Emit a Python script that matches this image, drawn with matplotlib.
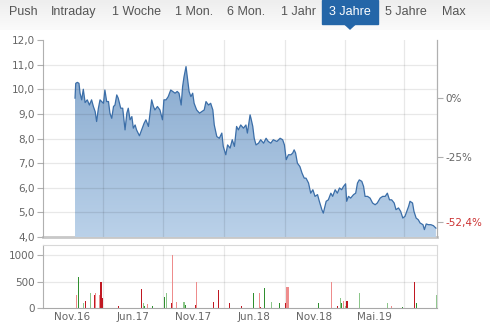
import numpy as np
import matplotlib
matplotlib.use("Agg")
import matplotlib.pyplot as plt
from matplotlib.colors import LinearSegmentedColormap
from matplotlib.patches import PathPatch, Rectangle, Polygon

# price history, x in days since the left edge of the 3-year window
days = [89, 91, 95.5, 100, 103, 107.5, 112, 117, 123, 129, 135, 140, 145, 149, 154, 158.5,
        163, 168, 172, 177, 182, 186, 191, 196, 200, 205, 209, 216, 221.5, 228, 233, 237,
        242, 247, 251, 256, 260, 268, 274, 281, 286, 293, 297.5, 302, 307, 311, 318, 325,
        332, 336, 342, 348, 355, 360.5, 367, 373, 378, 384, 388, 392, 397.5, 401, 406, 411,
        416, 420, 427, 435, 441, 448, 453, 460, 466, 472, 476, 483, 490, 497, 501, 508,
        513, 520, 526, 532, 538, 543, 549.5, 557, 564, 568, 575.5, 578, 583, 587, 592,
        599, 605, 613, 620, 626, 633, 640, 650, 659, 666, 671, 676, 682, 689, 694, 698,
        702, 707, 714, 720, 726, 731, 738, 744, 750, 756, 763, 768, 775, 779, 787, 793,
        800, 805, 812, 818, 824, 830, 835, 841, 844, 849, 855, 863, 869, 874, 879, 886,
        891, 895, 902, 909, 916, 923, 929, 937, 944, 951, 957, 963, 969, 976, 981, 988,
        994, 1000, 1006, 1011, 1016, 1020, 1027, 1031, 1037, 1043, 1048, 1056, 1060, 1065,
        1071, 1078, 1085, 1092]
prices = [9.64, 10.24, 10.28, 10.24, 9.84, 9.57, 10.0, 9.46, 9.57, 9.36, 9.57, 9.30, 9.09, 8.69, 9.23, 9.57,
          9.50, 9.43, 9.97, 9.50, 9.50, 9.03, 8.82, 9.30, 9.36, 9.77, 9.64, 9.23, 9.23, 8.35, 9.03, 9.23,
          8.76, 8.89, 8.42, 8.55, 8.35, 8.11, 8.35, 8.62, 8.76, 8.49, 9.03, 9.57, 9.30, 9.16, 9.30, 9.16,
          8.76, 9.57, 9.57, 9.70, 9.97, 9.91, 9.84, 9.91, 9.84, 9.36, 10.11, 10.51, 10.92, 10.51, 9.91, 9.70,
          9.84, 9.43, 9.16, 9.03, 9.09, 9.16, 9.50, 9.36, 9.43, 9.16, 8.55, 8.08, 8.01, 8.22, 7.68, 7.34,
          7.74, 7.61, 7.95, 7.68, 8.49, 8.35, 8.55, 8.42, 8.55, 8.22, 8.96, 8.82, 8.49, 8.01, 7.74,
          7.81, 7.95, 7.81, 8.01, 7.88, 7.81, 7.95, 7.88, 8.01, 7.95, 7.74, 7.14, 7.34, 7.34, 7.41, 7.54,
          7.41, 7.0, 6.86, 6.59, 6.39, 6.39, 6.19, 5.78, 5.92, 5.65, 5.72, 5.45, 5.11, 4.97, 5.45, 5.51,
          5.78, 5.65, 5.92, 5.78, 5.99, 5.92, 6.05, 6.16, 5.45, 5.65, 5.58, 5.72, 5.78, 6.19, 6.32, 6.26,
          6.05, 5.65, 5.65, 5.58, 5.38, 5.31, 5.38, 5.58, 5.65, 5.65, 5.78, 5.51, 5.51, 5.38, 5.11, 5.18,
          5.04, 4.77, 4.84, 5.04, 5.24, 5.45, 5.38, 5.04, 4.77, 4.70, 4.57, 4.50, 4.30, 4.53,
          4.50, 4.50, 4.46, 4.36]

base_price = 9.65
pct_ticks = [0, -25, -52.4]
pct_labels = ["0%", "-25%", "-52,4%"]

# volume bars: day, volume, colour class
vol_days = [92, 98, 112, 118, 133, 143, 146.5, 157, 161, 164, 209, 273, 280, 283, 291, 304,
            337, 344, 356, 359, 371, 392, 396, 424, 425.5, 475, 487.5, 518, 551, 585, 601.5,
            605, 615, 636, 657, 675, 678, 681, 765.5, 801, 818, 827, 829.5, 835, 840.5, 845,
            880.5, 957, 969, 1000, 1032, 1038, 1092.5]
vol_values = [250, 590, 105, 140, 280, 250, 295, 250, 500, 200, 50, 355, 100, 45, 80, 50,
              205, 295, 100, 1000, 120, 115, 55, 60, 500, 120, 350, 100, 40, 295, 295,
              25, 380, 120, 100, 100, 400, 400, 100, 500, 40, 200, 100, 140, 50, 140,
              295, 100, 40, 25, 500, 95, 250]
vol_kind = ["lr", "dg", "lg", "dr", "lg", "dr", "lr", "lr", "dr", "dr", "dr", "dr", "lg", "dg", "lr", "dg",
            "dg", "lg", "dr", "lr", "lr", "lg", "dg", "dr", "lr", "dr", "dr", "dr", "dr", "dg", "lr",
            "dr", "dg", "lg", "dg", "dr", "lr", "lr", "dg", "lr", "dr", "lg", "dg", "lr", "lg", "dr",
            "lg", "lg", "lr", "dg", "dr", "dg", "lg"]
kind_colors = {"dg": "#2f8f2f", "lg": "#8cc68a", "dr": "#c01822", "lr": "#ee8c8c"}

tick_pos = [81, 250, 417, 587, 753, 920]
tick_labels = ["Nov.16", "Jun.17", "Nov.17", "Jun.18", "Nov.18", "Mai.19"]
grid_x = [167, 334, 503, 673, 840, 1004]

tabs = ["Push", "Intraday", "1 Woche", "1 Mon.", "6 Mon.", "1 Jahr", "3 Jahre", "5 Jahre", "Max"]
tab_x = [23, 74, 136, 194, 246, 298, 350, 406, 454]
active_tab = "3 Jahre"

W, H = 490, 330
fig = plt.figure(figsize=(4.9, 3.3), dpi=100)
fig.patch.set_facecolor("white")

# tab bar
bar = fig.add_axes([0, 0, 1, 1], zorder=0)
bar.set_xlim(0, W)
bar.set_ylim(H, 0)
bar.axis("off")
bar_grad = np.linspace(0, 1, 50).reshape(-1, 1)
bar.imshow(bar_grad, extent=[0, W, 30, 0], aspect="auto",
           cmap=LinearSegmentedColormap.from_list("tb", ["#eeeeee", "#fbfbfb"]), zorder=0)
for name, x in zip(tabs, tab_x):
    if name == active_tab:
        bar.add_patch(Rectangle((x - 28, 0), 56, 24, color="#2466a8", zorder=1))
        bar.add_patch(Polygon([[x - 6, 23.5], [x + 6, 23.5], [x, 29]], closed=True,
                              color="#2466a8", zorder=1))
        bar.text(x, 12, name, color="white", ha="center", va="center",
                 fontsize=9, family="Liberation Sans", zorder=2)
    else:
        bar.text(x, 12, name, color="#555555", ha="center", va="center",
                 fontsize=9, family="Liberation Sans", zorder=2)

gray_txt = "#666666"
spine_c = "#b0b0b0"
grid_kw = dict(color="black", alpha=0.09, lw=0.9)

# price panel
ax = fig.add_axes([43 / W, 1 - 237 / H, 394 / W, 197 / H], zorder=2)
ax.set_facecolor("none")
ax.set_xlim(0, 1095)
ax.set_ylim(4, 12)
ax.set_yticks(np.arange(4, 12.5, 1))
ax.set_yticklabels([f"{v:.1f}".replace(".", ",") for v in np.arange(4, 12.5, 1)])
ax.set_xticks([])

fill = ax.fill_between(days, prices, 4, facecolor="none", edgecolor="none")
clip = PathPatch(fill.get_paths()[0], transform=ax.transData, facecolor="none", edgecolor="none")
ax.add_patch(clip)
grad = np.linspace(0, 1, 100).reshape(-1, 1)
im = ax.imshow(grad, extent=[0, 1095, 4, 12], origin="lower", aspect="auto",
               cmap=LinearSegmentedColormap.from_list("fl", ["#bad1e9", "#82a5cb"]), zorder=3)
im.set_clip_path(clip)
for g in grid_x:
    ax.axvline(g, zorder=4, **grid_kw)
for v in range(5, 12):
    ax.axhline(v, zorder=4, **grid_kw)
ax.plot(days, prices, color="#3b6ea8", lw=0.9, zorder=5)

ax.spines["top"].set_visible(False)
ax.spines["left"].set_color(spine_c)
ax.spines["right"].set_color(spine_c)
ax.spines["bottom"].set_color("#c8c8c8")
ax.spines["bottom"].set_linewidth(2)
ax.spines["bottom"].set_zorder(1)
ax.tick_params(axis="y", colors=spine_c, labelcolor=gray_txt, labelsize=7.5, length=4, pad=2)

ax2 = ax.twinx()
ax2.set_ylim(4, 12)
ax2.set_yticks([base_price * (1 + p / 100) for p in pct_ticks])
ax2.set_yticklabels(pct_labels)
ax2.tick_params(axis="y", colors=spine_c, labelcolor=gray_txt, labelsize=7.5, length=4, pad=2)
ax2.get_yticklabels()[-1].set_color("#cc3333")
for s in ["top", "left", "bottom"]:
    ax2.spines[s].set_visible(False)
ax2.spines["right"].set_color(spine_c)

# volume panel
axv = fig.add_axes([43 / W, 1 - 308.3 / H, 394 / W, 63.3 / H], zorder=2)
axv.set_facecolor("none")
axv.set_xlim(0, 1095)
axv.set_ylim(0, 1190)
axv.set_yticks([0, 500, 1000])
axv.set_yticklabels(["0", "500", "1000"])
for g in grid_x:
    axv.axvline(g, zorder=0, **grid_kw)
for v in [500, 1000]:
    axv.axhline(v, zorder=0, **grid_kw)
axv.bar(vol_days, vol_values, width=3.2, color=[kind_colors[k] for k in vol_kind], zorder=2)
axv.set_xticks(tick_pos)
axv.set_xticklabels(tick_labels)
axv.tick_params(axis="x", length=0, labelsize=7.5, labelcolor=gray_txt, pad=3)
axv.tick_params(axis="y", colors=spine_c, labelcolor=gray_txt, labelsize=7.5, length=4, pad=2)
axv.spines["left"].set_color(spine_c)
axv.spines["bottom"].set_color("#a8a8a8")
axv.spines["right"].set_color("#d8d8d8")
axv.spines["top"].set_color("#d8d8d8")

fig.savefig("out.png", dpi=100)
